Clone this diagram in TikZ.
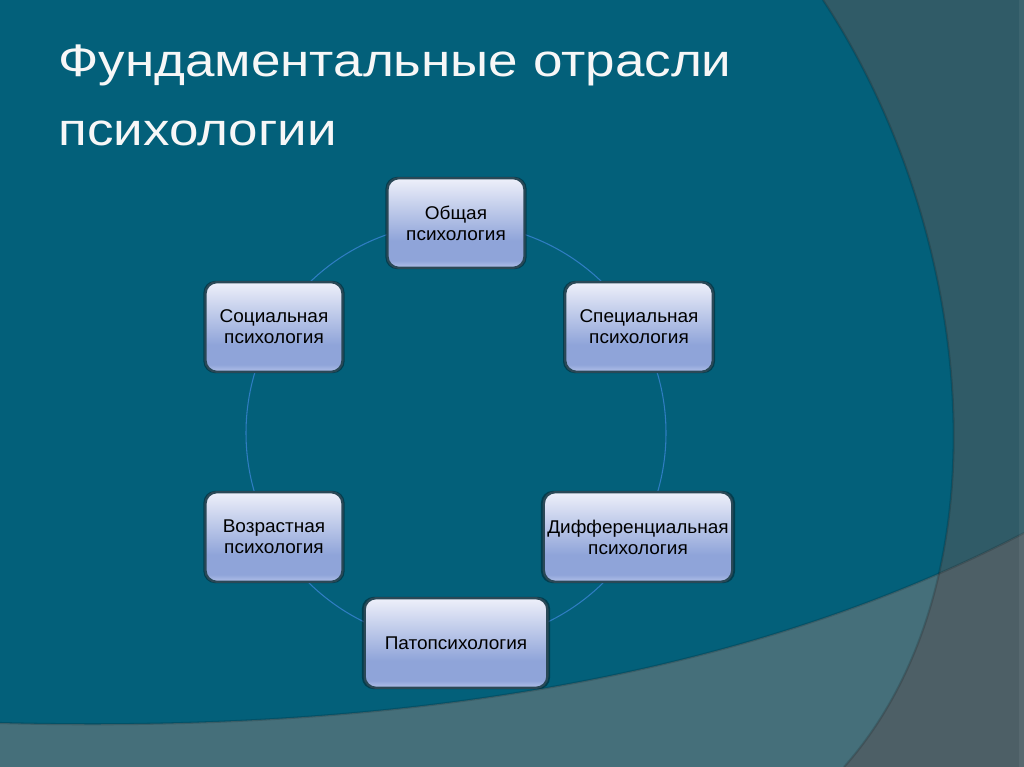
\documentclass[tikz,border=0pt]{standalone}
\usepackage{fontspec}
\setmainfont{Liberation Sans}
\newfontfamily\headfont[FakeStretch=1.16]{Liberation Sans}
\newfontfamily\branchfont[FakeStretch=1.03]{Liberation Sans}
\usetikzlibrary{shadows}

\definecolor{slideteal}{HTML}{03607A}
\definecolor{sidegray}{HTML}{305B67}
\definecolor{bandgray}{HTML}{456F7A}
\definecolor{cornergray}{HTML}{4D5F66}
\definecolor{ringblue}{HTML}{2F7DC2}
\definecolor{boxedge}{HTML}{2A4856}
\definecolor{boxtop}{HTML}{EEF0FA}
\definecolor{boxmid}{HTML}{8FA4D9}
\definecolor{boxbottom}{HTML}{B4C2EA}

\pgfdeclareverticalshading{boxshade}{100bp}{%
  color(0bp)=(boxbottom); color(25bp)=(boxbottom); color(29bp)=(boxmid);
  color(40bp)=(boxmid); color(75bp)=(boxtop); color(100bp)=(boxtop)}

\begin{document}
\begin{tikzpicture}[x=0.02cm,y=-0.02cm,
  branch/.style={rectangle,rounded corners=6.5pt,draw=boxedge,line width=1.3pt,
    shading=boxshade,minimum height=51pt,align=center,inner sep=2pt,
    font=\branchfont\fontsize{10.5}{12}\selectfont,
    general shadow={fill=black,opacity=0.35,shadow scale=1.03}},
  ring/.style={draw=ringblue,line width=0.6pt},
  heading/.style={anchor=base west,inner sep=0pt,text=white!94!gray,
    font=\headfont\fontsize{26}{30}\selectfont}]

  \useasboundingbox (0,0) rectangle (1024,767);

  % slide background
  \fill[slideteal] (0,0) rectangle (1024,767);
  \fill[sidegray] (823,0) .. controls (975,230) and (1010,580) .. (844,767)
    -- (1024,767) -- (1024,0) -- cycle;
  \fill[bandgray] (0,723) .. controls (450,735) and (780,660) .. (1024,533)
    -- (1024,767) -- (0,767) -- cycle;
  \begin{scope}
    \clip (0,723) .. controls (450,735) and (780,660) .. (1024,533)
      -- (1024,767) -- (0,767) -- cycle;
    \fill[cornergray] (823,0) .. controls (975,230) and (1010,580) .. (844,767)
      -- (1024,767) -- (1024,0) -- cycle;
  \end{scope}
  \draw[black,opacity=0.15,line width=1.2pt] (823,0) .. controls (975,230) and (1010,580) .. (844,767);
  \draw[black,opacity=0.15,line width=1.2pt] (0,723) .. controls (450,735) and (780,660) .. (1024,533);
  \fill[white,opacity=0.06] (1019,0) rectangle (1024,767);

  % title
  \node[heading] (title1) at (58,77) {Фундаментальные отрасли};
  \node[heading] (title2) at (58,145) {психологии};

  % ring of branches
  \coordinate (hub) at (456,433);
  \draw[ring] (hub) circle (210);

  \node[branch,minimum width=78pt] (general) at (456,223) {Общая\\психология};
  \node[branch,minimum width=78pt] (social) at (274,327) {Социальная\\психология};
  \node[branch,minimum width=84pt] (special) at (639,327) {Специальная\\психология};
  \node[branch,minimum width=78pt] (age) at (274,537) {Возрастная\\психология};
  \node[branch,minimum width=106pt] (differ) at (638,537) {Дифференциальная\\психология};
  \node[branch,minimum width=104pt] (patho) at (456,643) {Патопсихология};

\end{tikzpicture}
\end{document}
